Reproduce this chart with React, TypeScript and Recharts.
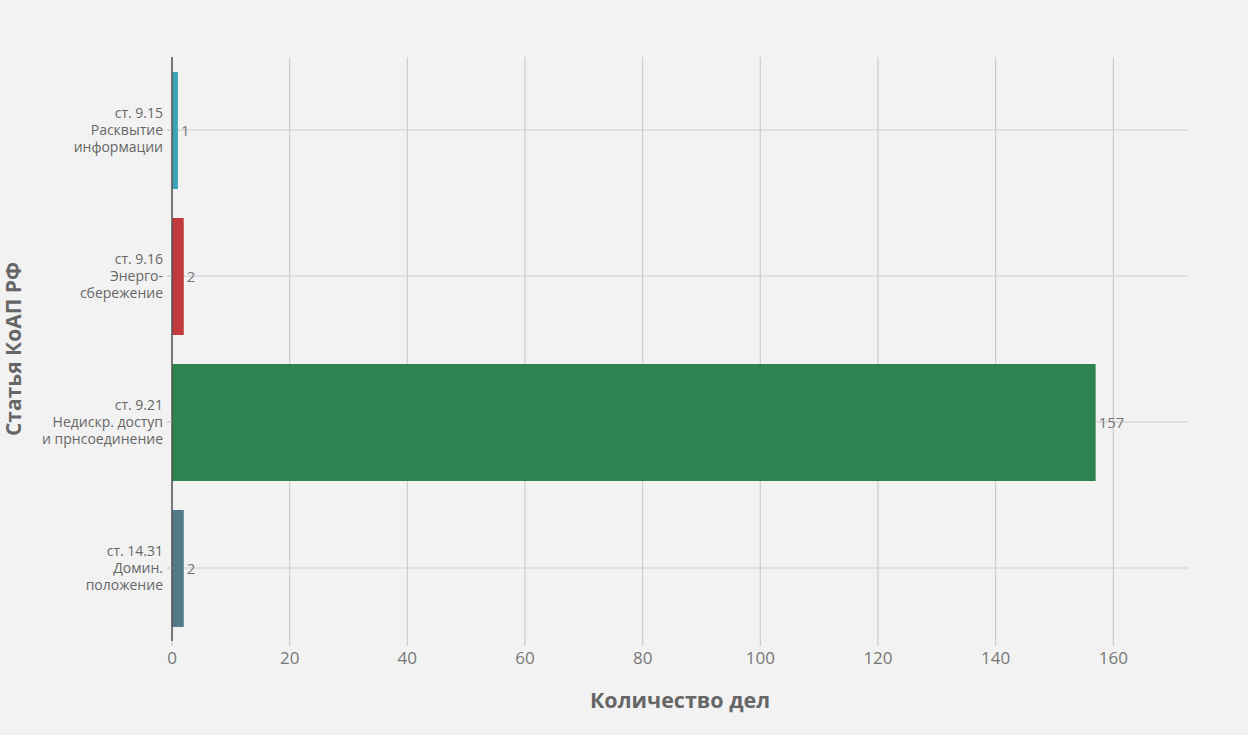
import { BarChart, Bar, XAxis, YAxis, CartesianGrid, Cell, LabelList, Label } from 'recharts'

const categories = [
  'ст. 9.15\nРасквытие\nинформации',
  'ст. 9.16\nЭнерго-\nсбережение',
  'ст. 9.21\nНедискр. доступ\nи прнсоединение',
  'ст. 14.31\nДомин.\nположение',
]
const caseCounts = [1, 2, 157, 2]
const barColors = ['#3aa3b6', '#c03a3c', '#2e8450', '#517b88']
const xTicks = [0, 20, 40, 60, 80, 100, 120, 140, 160]

const data = categories.map((name, i) => ({ name, value: caseCounts[i] }))

const font = '"Open Sans", sans-serif'

function CategoryTick(props: any) {
  const { x, y, payload } = props
  const lines: string[] = String(payload.value).split('\n')
  const lineH = 17
  const start = -((lines.length - 1) * lineH) / 2
  return (
    <text x={x} y={y} textAnchor="end" fill="#666" fontSize={14} fontFamily={font}>
      {lines.map((l, i) => (
        <tspan key={i} x={x} y={y + start + i * lineH} dy="0.35em">
          {l}
        </tspan>
      ))}
    </text>
  )
}

// rotated axis title, placed near the left edge of the picture
function YTitle(props: any) {
  const { viewBox } = props
  const cy = viewBox.y + viewBox.height / 2
  return (
    <text
      x={0}
      y={0}
      transform={`translate(21, ${cy}) rotate(-90)`}
      textAnchor="middle"
      fill="#666"
      fontSize={21}
      fontWeight={700}
      fontFamily={font}
    >
      Статья КоАП РФ
    </text>
  )
}

export default function App() {
  return (
    <div style={{ position: 'absolute', left: 0, top: 0, width: 1248, height: 735, background: '#f2f2f2' }}>
      <BarChart
        width={1248}
        height={735}
        data={data}
        layout="vertical"
        margin={{ top: 57, right: 60, bottom: 40, left: 0 }}
        barCategoryGap={0}
      >
        <CartesianGrid stroke="#cccccc" strokeWidth={1.2} syncWithTicks />
        <XAxis
          type="number"
          domain={[0, 172.7]}
          ticks={xTicks}
          allowDataOverflow
          axisLine={false}
          tickLine={{ stroke: '#cccccc', strokeWidth: 1.2 }}
          tickSize={5}
          tickMargin={6}
          height={54}
          tick={{ fill: '#777', fontSize: 17, fontFamily: font }}
        >
          <Label
            value="Количество дел"
            position="insideBottom"
            offset={-13}
            fill="#666"
            fontSize={21.5}
            fontWeight={700}
            fontFamily={font}
          />
        </XAxis>
        <YAxis
          type="category"
          dataKey="name"
          width={172}
          axisLine={{ stroke: '#555', strokeWidth: 1.5 }}
          tickLine={{ stroke: '#bbb' }}
          tickSize={5}
          tickMargin={4}
          tick={<CategoryTick />}
        >
          <Label content={<YTitle />} />
        </YAxis>
        <Bar dataKey="value" barSize={117} isAnimationActive={false}>
          {data.map((d, i) => (
            <Cell key={d.name} fill={barColors[i]} />
          ))}
          <LabelList
            dataKey="value"
            position="right"
            offset={3}
            fill="#777"
            fontSize={15}
            fontFamily={font}
          />
        </Bar>
      </BarChart>
    </div>
  )
}
